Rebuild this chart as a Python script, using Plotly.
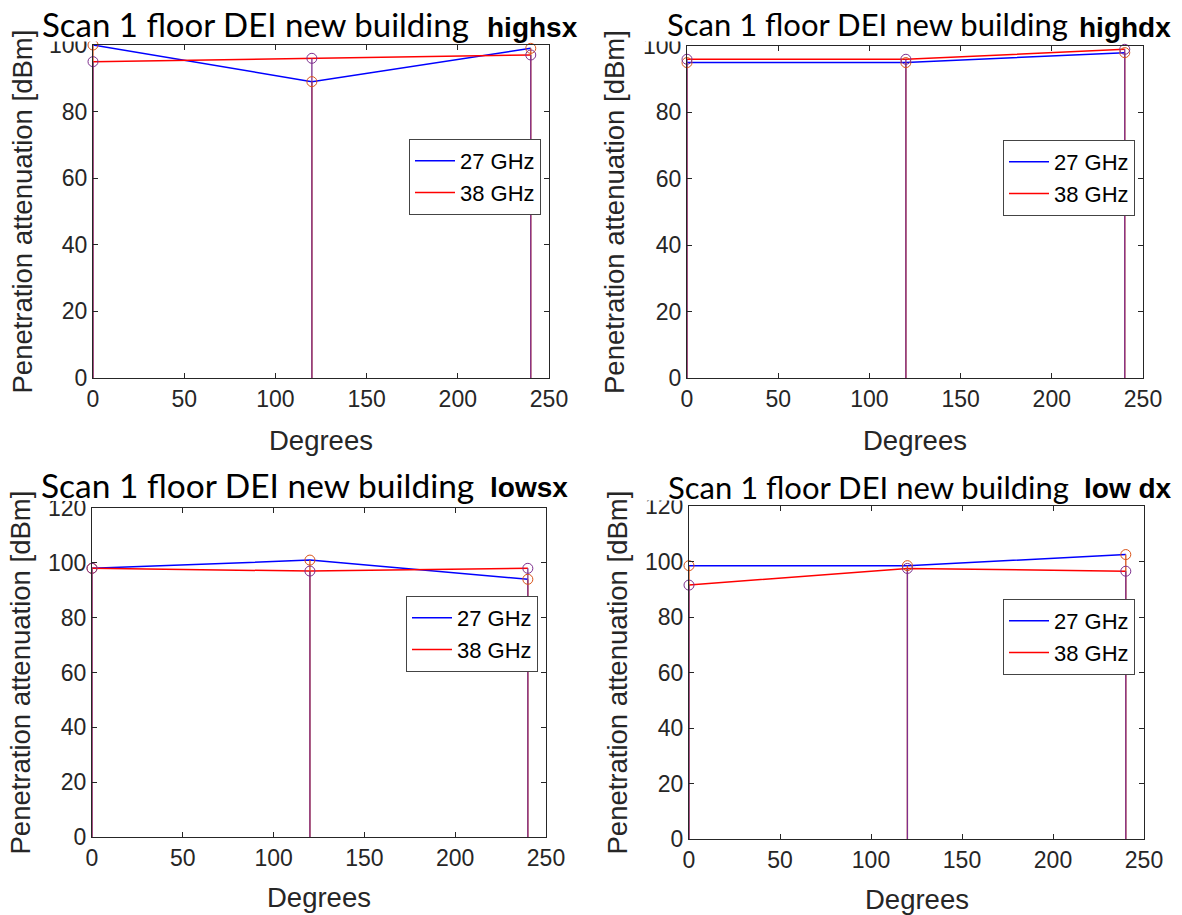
import plotly.graph_objects as go

# ---------------- data ----------------
degrees = [0, 120, 240]
highsx_27 = [100, 89, 99]
highsx_38 = [95, 96, 97]
highdx_27 = [95, 95, 98]
highdx_38 = [96, 96, 99]
lowsx_27 = [98, 101, 94]
lowsx_38 = [98, 97, 98]
lowdx_27 = [98.5, 98.5, 102.5]
lowdx_38 = [91.5, 97.5, 96.5]

panel_titles = ["Scan 1 floor DEI new building"] * 4
panel_tags = ["highsx", "highdx", "lowsx", "low dx"]
series_names = ["27 GHz", "38 GHz"]
y_max = [100, 100, 120, 120]
x_ticks = [0, 50, 100, 150, 200, 250]

W, H = 1182, 915
def px(x):
    return x / W
def py(y):
    return 1 - y / H

AX = "#262626"
BLUE, RED = "#0000FF", "#FF0000"
ORANGE, PURPLE = "#D95319", "#7E2F8E"
AXFONT = "Liberation Sans, Arial, sans-serif"

# panel geometry in pixels: (left, right, top, bottom)
boxes = [(93, 549, 45, 378), (687, 1143, 46, 378),
         (92, 546, 508, 837), (689, 1144, 506, 839)]
legend_pos = [(541, 139), (1135, 140), (538, 596), (1135, 599)]
title_pos = [(255, 24), (867, 24), (257, 485), (868, 487)]
title_size = [33, 31, 33.5, 31]
tag_pos = [(532, 28), (1125, 28), (529, 487), (1128, 488)]
cover = [(38, 482, 0, 41.5), (628, 1076, 0, 41.5), (36, 480, 460, 501), (640, 1076, 460, 500.5)]
ylab_x = [22, 615, 20, 617]
xlab_y = [440, 440, 897, 899]

data = [(highsx_27, highsx_38), (highdx_27, highdx_38),
        (lowsx_27, lowsx_38), (lowdx_27, lowdx_38)]

fig = go.Figure()
annotations = []
shapes = []

def stem(xs, ys):
    sx, sy = [], []
    for xv, yv in zip(xs, ys):
        sx += [xv, xv, None]
        sy += [0, yv, None]
    return sx, sy

for i, (a27, a38) in enumerate(data):
    n = "" if i == 0 else str(i + 1)
    xa, ya = "x" + n, "y" + n
    leg = "legend" + n
    l, r, t, b = boxes[i]
    # main lines
    fig.add_trace(go.Scatter(x=degrees, y=a27, mode="lines", name=series_names[0],
                             line=dict(color=BLUE, width=1.5), xaxis=xa, yaxis=ya,
                             legend=leg))
    fig.add_trace(go.Scatter(x=degrees, y=a38, mode="lines", name=series_names[1],
                             line=dict(color=RED, width=1.5), xaxis=xa, yaxis=ya,
                             legend=leg))
    # stems
    for vals, col in ((a27, ORANGE), (a38, PURPLE)):
        sx, sy = stem(degrees, vals)
        fig.add_trace(go.Scatter(x=sx, y=sy, mode="lines", showlegend=False,
                                 line=dict(color=col, width=1.3), xaxis=xa, yaxis=ya,
                                 hoverinfo="skip"))
    for vals, col in ((a27, ORANGE), (a38, PURPLE)):
        fig.add_trace(go.Scatter(x=degrees, y=vals, mode="markers", showlegend=False,
                                 marker=dict(symbol="circle-open", size=10,
                                             color=col, line=dict(width=1)),
                                 cliponaxis=False, xaxis=xa, yaxis=ya))

    axcommon = dict(showline=True, linecolor=AX, linewidth=1, mirror="ticks",
                    ticks="inside", ticklen=5, tickcolor=AX, tickwidth=1,
                    showgrid=False, zeroline=False, automargin=False,
                    tickfont=dict(family=AXFONT, size=23, color=AX))
    fig.update_layout(**{
        "xaxis" + n: dict(domain=[px(l), px(r)], range=[0, 250], tickvals=x_ticks,
                          anchor=ya, **axcommon),
        "yaxis" + n: dict(domain=[py(b), py(t)], range=[0, y_max[i]],
                          dtick=20, anchor=xa, **axcommon),
    })
    lx, ly = legend_pos[i]
    fig.update_layout(**{leg: dict(x=px(lx), y=py(ly), xanchor="right", yanchor="top",
                                   bgcolor="white", bordercolor="#444", borderwidth=1,
                                   font=dict(family=AXFONT, size=22, color="black"),
                                   tracegroupgap=0, itemwidth=40)})
    # white cover of title image
    cl, cr, ct, cb = cover[i]
    shapes.append(dict(type="rect", xref="paper", yref="paper", layer="above",
                       x0=px(cl), x1=px(cr), y0=py(cb), y1=py(ct),
                       fillcolor="white", line=dict(width=0)))
    tx, ty = title_pos[i]
    annotations.append(dict(text=panel_titles[i], x=px(tx), y=py(ty), xref="paper",
                            yref="paper", showarrow=False, xanchor="center",
                            yanchor="middle",
                            font=dict(family="Lato, sans-serif", size=title_size[i],
                                      color="black")))
    gx, gy = tag_pos[i]
    annotations.append(dict(text="<b>" + panel_tags[i] + "</b>", x=px(gx), y=py(gy),
                            xref="paper", yref="paper", showarrow=False,
                            xanchor="center", yanchor="middle",
                            font=dict(family=AXFONT, size=28, color="black")))
    annotations.append(dict(text="Penetration attenuation [dBm]", x=px(ylab_x[i]),
                            y=py((t + b) / 2), xref="paper", yref="paper",
                            showarrow=False, textangle=-90, xanchor="center",
                            yanchor="middle",
                            font=dict(family=AXFONT, size=27.5, color=AX)))
    annotations.append(dict(text="Degrees", x=px((l + r) / 2), y=py(xlab_y[i]),
                            xref="paper", yref="paper", showarrow=False,
                            xanchor="center", yanchor="middle",
                            font=dict(family=AXFONT, size=27.5, color=AX)))

fig.update_layout(width=W, height=H, autosize=False,
                  margin=dict(l=0, r=0, t=0, b=0, pad=0, autoexpand=False),
                  paper_bgcolor="white", plot_bgcolor="white",
                  annotations=annotations, shapes=shapes)

fig.write_html("out.html")
